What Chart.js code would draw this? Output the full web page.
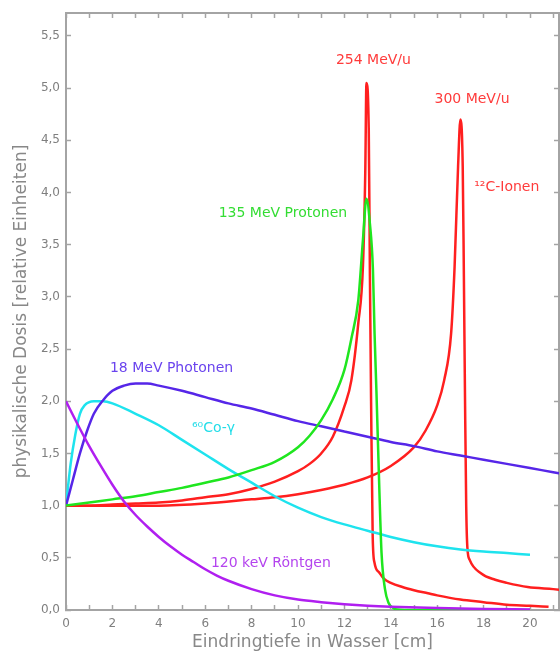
<!DOCTYPE html>
<html>
<head>
<meta charset="utf-8">
<script src="https://cdn.jsdelivr.net/npm/chart.js@4.4.0/dist/chart.umd.min.js"></script>
<style>
  html, body { margin: 0; padding: 0; background: #fff; }
  #wrap { width: 560px; height: 658px; position: relative; }
</style>
</head>
<body>
<div id="wrap"><canvas id="chart"></canvas></div>
<script>
// depth dose curves in water
const xLabelValues = [0, 2, 4, 6, 8, 10, 12, 14, 16, 18, 20];
const yLabelValues = [0, 0.5, 1, 1.5, 2, 2.5, 3, 3.5, 4, 4.5, 5, 5.5];

const roentgenDepth = [0, 0.5, 1, 1.5, 2, 2.5, 3, 3.5, 4, 4.5, 5, 5.5, 6, 6.5, 7, 8, 9, 10, 11, 12, 13, 14, 16, 18, 20];
const roentgenDose = [2.0, 1.78, 1.57, 1.38, 1.2, 1.04, 0.91, 0.8, 0.7, 0.61, 0.53, 0.46, 0.39, 0.33, 0.28, 0.2, 0.14, 0.1, 0.075, 0.055, 0.04, 0.03, 0.018, 0.01, 0.005];

const cobaltDepth = [0, 0.2, 0.4, 0.6, 0.8, 1.2, 1.6, 2, 3, 4, 5, 6, 7, 8, 9, 10, 11, 12, 13, 14, 15, 16, 17, 18, 19, 20];
const cobaltDose = [1.0, 1.4, 1.68, 1.88, 1.96, 2.0, 2.0, 1.98, 1.88, 1.77, 1.63, 1.49, 1.35, 1.22, 1.09, 0.98, 0.89, 0.82, 0.76, 0.7, 0.65, 0.61, 0.58, 0.56, 0.545, 0.53];

const photonDepth = [0, 0.3, 0.6, 0.9, 1.2, 1.6, 2, 2.5, 3, 3.5, 4, 5, 6, 7, 8, 9, 10, 11, 12, 13, 14, 15, 16, 17, 18, 19, 20, 21, 21.5];
const photonDose = [1.0, 1.25, 1.5, 1.71, 1.88, 2.01, 2.1, 2.15, 2.17, 2.17, 2.15, 2.1, 2.04, 1.98, 1.93, 1.87, 1.81, 1.76, 1.71, 1.66, 1.61, 1.57, 1.52, 1.48, 1.44, 1.4, 1.36, 1.32, 1.3];

const protonDepth = [0, 1, 2, 3, 4, 5, 6, 7, 8, 9, 10, 10.5, 11, 11.5, 12, 12.3, 12.6, 12.8, 12.95, 13.1, 13.23, 13.3, 13.38, 13.5, 13.6, 13.75, 13.9, 14.1, 14.3, 15, 20];
const protonDose = [1.0, 1.03, 1.06, 1.09, 1.13, 1.17, 1.22, 1.27, 1.34, 1.42, 1.56, 1.67, 1.82, 2.02, 2.3, 2.6, 2.97, 3.55, 3.94, 3.7, 3.26, 2.65, 2.1, 1.2, 0.55, 0.2, 0.07, 0.02, 0.005, 0, 0];

const carbon254Depth = [0, 1, 2, 3, 4, 5, 6, 7, 8, 9, 10, 10.5, 11, 11.5, 12, 12.3, 12.6, 12.8, 12.9, 12.95, 13.05, 13.1, 13.15, 13.22, 13.3, 13.5, 13.7, 14, 14.5, 15, 15.6, 16, 17, 18, 19, 20, 20.8];
const carbon254Dose = [1.0, 1.0, 1.01, 1.02, 1.03, 1.05, 1.08, 1.11, 1.16, 1.23, 1.33, 1.4, 1.5, 1.66, 1.95, 2.2, 2.75, 3.3, 4.2, 5.05, 4.6, 3.2, 2.0, 0.7, 0.45, 0.36, 0.3, 0.26, 0.22, 0.19, 0.16, 0.14, 0.1, 0.075, 0.05, 0.04, 0.03];

const carbon300Depth = [0, 2, 4, 6, 8, 9, 10, 11, 12, 13, 14, 15, 15.5, 16, 16.3, 16.6, 16.75, 16.9, 17.0, 17.1, 17.15, 17.2, 17.25, 17.3, 17.4, 17.9, 18.5, 19, 19.9, 21, 21.5];
const carbon300Dose = [1.0, 1.0, 1.0, 1.02, 1.06, 1.08, 1.11, 1.15, 1.2, 1.27, 1.38, 1.56, 1.72, 1.96, 2.2, 2.65, 3.29, 4.25, 4.7, 4.25, 3.2, 2.0, 1.0, 0.6, 0.48, 0.35, 0.29, 0.26, 0.22, 0.2, 0.19];

const RED = "#ff1f1f";
const GREEN = "#1fe61f";
const BLUE = "#5626e8";
const CYAN = "#1ee3ee";
const PURPLE = "#b01ff0";
const AXIS = "#a4a4a4";
const TEXT = "#7f7f7f";
const FONT = "'DejaVu Sans', sans-serif";

// curve names, placed in data units
const curveLabels = [
  {text: "254 MeV/u", x: 13.25, y: 5.27, color: "#ff3b3b"},
  {text: "300 MeV/u", x: 17.5, y: 4.89, color: "#ff3b3b"},
  {text: "\u00b9\u00b2C-Ionen", x: 19.0, y: 4.05, color: "#ff3b3b"},
  {text: "135 MeV Protonen", x: 9.35, y: 3.8, color: "#33dd33"},
  {text: "18 MeV Photonen", x: 4.55, y: 2.32, color: "#6a44ee"},
  {text: "\u2076\u2070Co-\u03b3", x: 6.36, y: 1.74, color: "#22dde8"},
  {text: "120 keV R\u00f6ntgen", x: 8.83, y: 0.45, color: "#b444ee"}
];

const points = (xs, ys) => xs.map((x, i) => ({x: x, y: ys[i]}));

const series = [
  {data: points(roentgenDepth, roentgenDose), color: PURPLE},
  {data: points(protonDepth, protonDose), color: GREEN},
  {data: points(photonDepth, photonDose), color: BLUE},
  {data: points(cobaltDepth, cobaltDose), color: CYAN},
  {data: points(carbon254Depth, carbon254Dose), color: RED},
  {data: points(carbon300Depth, carbon300Dose), color: RED}
];

const curveNames = {
  id: "curveNames",
  afterDatasetsDraw(chart){
    const {ctx} = chart;
    const x = chart.scales.x, y = chart.scales.y;
    ctx.save();
    ctx.font = "14px " + FONT;
    ctx.textAlign = "center";
    ctx.textBaseline = "middle";
    curveLabels.forEach((l)=>{
      ctx.fillStyle = l.color;
      ctx.fillText(l.text, x.getPixelForValue(l.x), y.getPixelForValue(l.y));
    });
    ctx.restore();
  }
};

// fixed box sizes so the plot area lands where it is in the picture
const fixSize = (w, h) => (s)=>{
  if(w !== null){ s.width = w; }
  if(h !== null){ s.height = h; }
  s.paddingTop = 0; s.paddingBottom = 0; s.paddingLeft = 0; s.paddingRight = 0;
};

const tickGrid = {drawOnChartArea: false, tickLength: -5, tickColor: AXIS, tickWidth: 1.5, color: AXIS};
const axisBorder = {color: AXIS, width: 2};

new Chart(document.getElementById("chart"), {
  type: "line",
  data: {
    datasets: series.map((s)=>({
      data: s.data,
      borderColor: s.color,
      borderWidth: 2.5,
      fill: false,
      pointRadius: 0,
      cubicInterpolationMode: "monotone"
    }))
  },
  options: {
    responsive: true,
    maintainAspectRatio: false,
    animation: false,
    devicePixelRatio: 1,
    layout: {padding: 0},
    plugins: {legend: {display: false}, tooltip: {enabled: false}},
    scales: {
      x: {
        type: "linear", position: "bottom", min: 0, max: 21.25,
        afterFit: fixSize(null, 48),
        border: axisBorder,
        grid: tickGrid,
        ticks: {
          stepSize: 1, includeBounds: false, autoSkip: false, maxRotation: 0,
          padding: 12, color: TEXT, font: {family: FONT, size: 12},
          callback: (v)=> xLabelValues.includes(v) ? String(v) : ""
        },
        title: {
          display: true, text: "Eindringtiefe in Wasser [cm]", color: "#888",
          font: {family: FONT, size: 17}, padding: {top: 0, bottom: 5}
        }
      },
      xTop: {
        type: "linear", axis: "x", position: "top", min: 0, max: 21.25,
        afterFit: fixSize(null, 13),
        border: axisBorder,
        grid: tickGrid,
        ticks: {stepSize: 1, includeBounds: false, autoSkip: false, display: false}
      },
      y: {
        type: "linear", position: "left", min: 0, max: 5.72,
        afterFit: fixSize(66, null),
        border: axisBorder,
        grid: tickGrid,
        ticks: {
          stepSize: 0.5, includeBounds: false, autoSkip: false,
          padding: 11, color: TEXT, font: {family: FONT, size: 12},
          callback: (v)=> yLabelValues.includes(v) ? v.toFixed(1).replace(".", ",") : ""
        },
        title: {
          display: true, text: "physikalische Dosis [relative Einheiten]", color: "#888",
          font: {family: FONT, size: 17}, padding: {top: 11, bottom: 0}
        }
      },
      yRight: {
        type: "linear", axis: "y", position: "right", min: 0, max: 5.72,
        afterFit: fixSize(1, null),
        border: axisBorder,
        grid: tickGrid,
        ticks: {stepSize: 0.5, includeBounds: false, autoSkip: false, display: false}
      }
    }
  },
  plugins: [curveNames]
});
</script>
</body>
</html>
